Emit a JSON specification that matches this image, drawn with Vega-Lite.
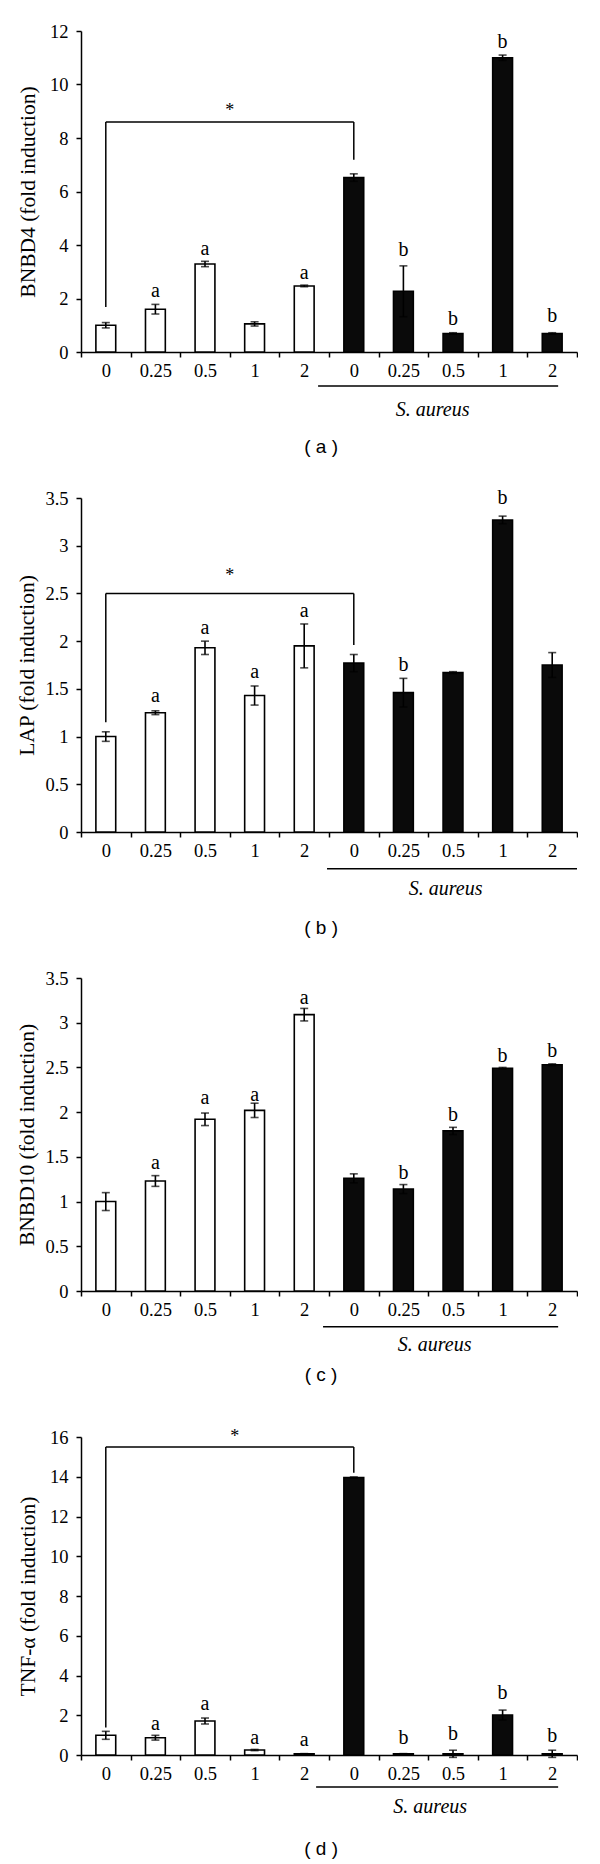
{
  "$schema": "https://vega.github.io/schema/vega-lite/v6.json",
  "padding": {"left": 16, "top": 22, "right": 0, "bottom": 0},
  "background": "white",
  "config": {
    "view": {"stroke": null},
    "axis": {
      "labelFont": "Liberation Serif", "labelFontSize": 18.5, "labelColor": "#000", "labelOverlap": false,
      "titleFont": "Liberation Serif", "titleFontSize": 21.5, "titleFontWeight": "normal", "titleColor": "#000",
      "domainColor": "#000", "domainWidth": 1.5, "tickColor": "#000", "tickWidth": 1.5, "tickSize": 5, "grid": false
    },
    "text": {"font": "Liberation Serif", "fontSize": 20, "color": "#000"}
  },
  "datasets": {
    "a_bars": [
      {"cat": "C|0", "grp": "ctrl", "v": 1.0, "e": 0.1, "let": "", "ly": 0},
      {"cat": "C|0.25", "grp": "ctrl", "v": 1.6, "e": 0.18, "let": "a", "ly": 2.29},
      {"cat": "C|0.5", "grp": "ctrl", "v": 3.29, "e": 0.1, "let": "a", "ly": 3.86},
      {"cat": "C|1", "grp": "ctrl", "v": 1.05, "e": 0.08, "let": "", "ly": 0},
      {"cat": "C|2", "grp": "ctrl", "v": 2.47, "e": 0.03, "let": "a", "ly": 2.94},
      {"cat": "S|0", "grp": "sa", "v": 6.52, "e": 0.14, "let": "", "ly": 0},
      {"cat": "S|0.25", "grp": "sa", "v": 2.27, "e": 0.95, "let": "b", "ly": 3.82},
      {"cat": "S|0.5", "grp": "sa", "v": 0.69, "e": 0.03, "let": "b", "ly": 1.22},
      {"cat": "S|1", "grp": "sa", "v": 11.0, "e": 0.1, "let": "b", "ly": 11.58},
      {"cat": "S|2", "grp": "sa", "v": 0.69, "e": 0.03, "let": "b", "ly": 1.34}
    ],
    "a_ann": [
      {"kind": "rule", "x": 0.5, "x2": 5.5, "y": 8.6, "y2": 8.6},
      {"kind": "rule", "x": 0.5, "x2": 0.5, "y": 1.68, "y2": 8.6},
      {"kind": "rule", "x": 5.5, "x2": 5.5, "y": 7.19, "y2": 8.6},
      {"kind": "line", "x": 4.78, "x2": 9.62, "y": -1.27, "y2": -1.27},
      {"kind": "star", "x": 3.0, "y": 9.0, "t": "*"},
      {"kind": "species", "x": 7.09, "y": -2.17, "t": "S. aureus"},
      {"kind": "panel", "x": 4.84, "y": -3.55, "t": "( a )"}
    ],
    "b_bars": [
      {"cat": "C|0", "grp": "ctrl", "v": 1.0, "e": 0.05, "let": "", "ly": 0},
      {"cat": "C|0.25", "grp": "ctrl", "v": 1.25, "e": 0.02, "let": "a", "ly": 1.43},
      {"cat": "C|0.5", "grp": "ctrl", "v": 1.93, "e": 0.07, "let": "a", "ly": 2.14},
      {"cat": "C|1", "grp": "ctrl", "v": 1.43, "e": 0.1, "let": "a", "ly": 1.68},
      {"cat": "C|2", "grp": "ctrl", "v": 1.95, "e": 0.23, "let": "a", "ly": 2.32},
      {"cat": "S|0", "grp": "sa", "v": 1.77, "e": 0.09, "let": "", "ly": 0},
      {"cat": "S|0.25", "grp": "sa", "v": 1.46, "e": 0.15, "let": "b", "ly": 1.755},
      {"cat": "S|0.5", "grp": "sa", "v": 1.67, "e": 0.01, "let": "", "ly": 0},
      {"cat": "S|1", "grp": "sa", "v": 3.27, "e": 0.04, "let": "b", "ly": 3.5},
      {"cat": "S|2", "grp": "sa", "v": 1.75, "e": 0.13, "let": "", "ly": 0}
    ],
    "b_ann": [
      {"kind": "rule", "x": 0.5, "x2": 5.5, "y": 2.5, "y2": 2.5},
      {"kind": "rule", "x": 0.5, "x2": 0.5, "y": 1.15, "y2": 2.5},
      {"kind": "rule", "x": 5.5, "x2": 5.5, "y": 1.96, "y2": 2.5},
      {"kind": "line", "x": 4.96, "x2": 10.0, "y": -0.385, "y2": -0.385},
      {"kind": "star", "x": 3.0, "y": 2.68, "t": "*"},
      {"kind": "species", "x": 7.35, "y": -0.594, "t": "S. aureus"},
      {"kind": "panel", "x": 4.84, "y": -1.01, "t": "( b )"}
    ],
    "c_bars": [
      {"cat": "C|0", "grp": "ctrl", "v": 1.0, "e": 0.1, "let": "", "ly": 0},
      {"cat": "C|0.25", "grp": "ctrl", "v": 1.23, "e": 0.06, "let": "a", "ly": 1.43},
      {"cat": "C|0.5", "grp": "ctrl", "v": 1.92, "e": 0.07, "let": "a", "ly": 2.16},
      {"cat": "C|1", "grp": "ctrl", "v": 2.02, "e": 0.08, "let": "a", "ly": 2.19},
      {"cat": "C|2", "grp": "ctrl", "v": 3.09, "e": 0.07, "let": "a", "ly": 3.28},
      {"cat": "S|0", "grp": "sa", "v": 1.26, "e": 0.05, "let": "", "ly": 0},
      {"cat": "S|0.25", "grp": "sa", "v": 1.14, "e": 0.05, "let": "b", "ly": 1.32},
      {"cat": "S|0.5", "grp": "sa", "v": 1.79, "e": 0.04, "let": "b", "ly": 1.97},
      {"cat": "S|1", "grp": "sa", "v": 2.49, "e": 0.01, "let": "b", "ly": 2.63},
      {"cat": "S|2", "grp": "sa", "v": 2.53, "e": 0.01, "let": "b", "ly": 2.68}
    ],
    "c_ann": [
      {"kind": "line", "x": 4.88, "x2": 9.62, "y": -0.40, "y2": -0.40},
      {"kind": "species", "x": 7.13, "y": -0.60, "t": "S. aureus"},
      {"kind": "panel", "x": 4.84, "y": -0.94, "t": "( c )"}
    ],
    "d_bars": [
      {"cat": "C|0", "grp": "ctrl", "v": 0.99, "e": 0.2, "let": "", "ly": 0},
      {"cat": "C|0.25", "grp": "ctrl", "v": 0.87, "e": 0.12, "let": "a", "ly": 1.54},
      {"cat": "C|0.5", "grp": "ctrl", "v": 1.71, "e": 0.15, "let": "a", "ly": 2.55},
      {"cat": "C|1", "grp": "ctrl", "v": 0.25, "e": 0.03, "let": "a", "ly": 0.87},
      {"cat": "C|2", "grp": "ctrl", "v": 0.06, "e": 0.01, "let": "a", "ly": 0.75},
      {"cat": "S|0", "grp": "sa", "v": 13.96, "e": 0.03, "let": "", "ly": 0},
      {"cat": "S|0.25", "grp": "sa", "v": 0.06, "e": 0.01, "let": "b", "ly": 0.87},
      {"cat": "S|0.5", "grp": "sa", "v": 0.06, "e": 0.18, "let": "b", "ly": 1.04},
      {"cat": "S|1", "grp": "sa", "v": 2.01, "e": 0.25, "let": "b", "ly": 3.14},
      {"cat": "S|2", "grp": "sa", "v": 0.06, "e": 0.18, "let": "b", "ly": 0.96}
    ],
    "d_ann": [
      {"kind": "rule", "x": 0.5, "x2": 5.5, "y": 15.5, "y2": 15.5},
      {"kind": "rule", "x": 0.5, "x2": 0.5, "y": 1.38, "y2": 15.5},
      {"kind": "rule", "x": 5.5, "x2": 5.5, "y": 14.2, "y2": 15.5},
      {"kind": "line", "x": 4.74, "x2": 9.62, "y": -1.61, "y2": -1.61},
      {"kind": "star", "x": 3.1, "y": 16.0, "t": "*"},
      {"kind": "species", "x": 7.04, "y": -2.62, "t": "S. aureus"},
      {"kind": "panel", "x": 4.84, "y": -4.73, "t": "( d )"}
    ]
  },
  "vconcat": [
    {
      "width": 496, "height": 321,
      "resolve": {"scale": {"x": "independent"}},
      "layer": [
        {
          "data": {"name": "a_bars"},
          "encoding": {
            "x": {"field": "cat", "type": "nominal", "sort": null, "title": null,
                  "scale": {"paddingInner": 0, "paddingOuter": 0},
                  "axis": {"tickBand": "extent", "labelExpr": "split(datum.label, '|')[1]", "labelAngle": 0, "labelPadding": 4, "labelOverlap": false}}
          },
          "layer": [
            {
              "mark": {"type": "bar", "width": {"band": 0.4}, "stroke": "#000", "strokeWidth": 1.6},
              "encoding": {
                "y": {"field": "v", "type": "quantitative", "scale": {"domain": [0, 12], "nice": false}, "title": "BNBD4 (fold induction)",
                      "axis": {"values": [0, 2, 4, 6, 8, 10, 12], "tickCount": 20, "format": "~g", "labelOverlap": false, "labelPadding": 8, "titlePadding": 10}},
                "fill": {"field": "grp", "type": "nominal", "scale": {"domain": ["ctrl", "sa"], "range": ["#ffffff", "#0a0a0a"]}, "legend": null}
              }
            },
            {
              "mark": {"type": "errorbar", "color": "#000", "thickness": 1.6, "ticks": {"size": 8, "thickness": 1.6, "color": "#000"}},
              "encoding": {
                "y": {"field": "v", "type": "quantitative", "title": "BNBD4 (fold induction)"},
                "yError": {"field": "e"}
              }
            },
            {
              "mark": {"type": "text", "baseline": "middle"},
              "encoding": {
                "y": {"field": "ly", "type": "quantitative", "title": "BNBD4 (fold induction)"},
                "text": {"field": "let"}
              }
            }
          ]
        },
        {
          "data": {"name": "a_ann"},
          "layer": [
            {
              "transform": [{"filter": "datum.kind === 'rule' || datum.kind === 'line'"}],
              "mark": {"type": "rule", "color": "#000", "strokeWidth": 1.5},
              "encoding": {
                "x": {"field": "x", "type": "quantitative", "scale": {"domain": [0, 10], "nice": false, "zero": false}, "axis": null},
                "x2": {"field": "x2"},
                "y": {"field": "y", "type": "quantitative", "title": "BNBD4 (fold induction)"},
                "y2": {"field": "y2"}
              }
            },
            {
              "transform": [{"filter": "datum.kind === 'star'"}],
              "mark": {"type": "text", "baseline": "middle", "fontSize": 18},
              "encoding": {"x": {"field": "x", "type": "quantitative", "axis": null}, "y": {"field": "y", "type": "quantitative", "title": "BNBD4 (fold induction)"}, "text": {"field": "t"}}
            },
            {
              "transform": [{"filter": "datum.kind === 'species'"}],
              "mark": {"type": "text", "baseline": "middle", "fontSize": 20, "fontStyle": "italic"},
              "encoding": {"x": {"field": "x", "type": "quantitative", "axis": null}, "y": {"field": "y", "type": "quantitative", "title": "BNBD4 (fold induction)"}, "text": {"field": "t"}}
            },
            {
              "transform": [{"filter": "datum.kind === 'panel'"}],
              "mark": {"type": "text", "baseline": "middle", "fontSize": 19, "font": "Liberation Sans"},
              "encoding": {"x": {"field": "x", "type": "quantitative", "axis": null}, "y": {"field": "y", "type": "quantitative", "title": "BNBD4 (fold induction)"}, "text": {"field": "t"}}
            }
          ]
        }
      ]
    },
    {
      "width": 496, "height": 334,
      "resolve": {"scale": {"x": "independent"}},
      "layer": [
        {
          "data": {"name": "b_bars"},
          "encoding": {
            "x": {"field": "cat", "type": "nominal", "sort": null, "title": null,
                  "scale": {"paddingInner": 0, "paddingOuter": 0},
                  "axis": {"tickBand": "extent", "labelExpr": "split(datum.label, '|')[1]", "labelAngle": 0, "labelPadding": 4, "labelOverlap": false}}
          },
          "layer": [
            {
              "mark": {"type": "bar", "width": {"band": 0.4}, "stroke": "#000", "strokeWidth": 1.6},
              "encoding": {
                "y": {"field": "v", "type": "quantitative", "scale": {"domain": [0, 3.5], "nice": false}, "title": "LAP (fold induction)",
                      "axis": {"values": [0, 0.5, 1, 1.5, 2, 2.5, 3, 3.5], "tickCount": 20, "format": "~g", "labelOverlap": false, "labelPadding": 8, "titlePadding": 6}},
                "fill": {"field": "grp", "type": "nominal", "scale": {"domain": ["ctrl", "sa"], "range": ["#ffffff", "#0a0a0a"]}, "legend": null}
              }
            },
            {
              "mark": {"type": "errorbar", "color": "#000", "thickness": 1.6, "ticks": {"size": 8, "thickness": 1.6, "color": "#000"}},
              "encoding": {
                "y": {"field": "v", "type": "quantitative", "title": "LAP (fold induction)"},
                "yError": {"field": "e"}
              }
            },
            {
              "mark": {"type": "text", "baseline": "middle"},
              "encoding": {
                "y": {"field": "ly", "type": "quantitative", "title": "LAP (fold induction)"},
                "text": {"field": "let"}
              }
            }
          ]
        },
        {
          "data": {"name": "b_ann"},
          "layer": [
            {
              "transform": [{"filter": "datum.kind === 'rule' || datum.kind === 'line'"}],
              "mark": {"type": "rule", "color": "#000", "strokeWidth": 1.5},
              "encoding": {
                "x": {"field": "x", "type": "quantitative", "scale": {"domain": [0, 10], "nice": false, "zero": false}, "axis": null},
                "x2": {"field": "x2"},
                "y": {"field": "y", "type": "quantitative", "title": "LAP (fold induction)"},
                "y2": {"field": "y2"}
              }
            },
            {
              "transform": [{"filter": "datum.kind === 'star'"}],
              "mark": {"type": "text", "baseline": "middle", "fontSize": 18},
              "encoding": {"x": {"field": "x", "type": "quantitative", "axis": null}, "y": {"field": "y", "type": "quantitative", "title": "LAP (fold induction)"}, "text": {"field": "t"}}
            },
            {
              "transform": [{"filter": "datum.kind === 'species'"}],
              "mark": {"type": "text", "baseline": "middle", "fontSize": 20, "fontStyle": "italic"},
              "encoding": {"x": {"field": "x", "type": "quantitative", "axis": null}, "y": {"field": "y", "type": "quantitative", "title": "LAP (fold induction)"}, "text": {"field": "t"}}
            },
            {
              "transform": [{"filter": "datum.kind === 'panel'"}],
              "mark": {"type": "text", "baseline": "middle", "fontSize": 19, "font": "Liberation Sans"},
              "encoding": {"x": {"field": "x", "type": "quantitative", "axis": null}, "y": {"field": "y", "type": "quantitative", "title": "LAP (fold induction)"}, "text": {"field": "t"}}
            }
          ]
        }
      ]
    },
    {
      "width": 496, "height": 313,
      "resolve": {"scale": {"x": "independent"}},
      "layer": [
        {
          "data": {"name": "c_bars"},
          "encoding": {
            "x": {"field": "cat", "type": "nominal", "sort": null, "title": null,
                  "scale": {"paddingInner": 0, "paddingOuter": 0},
                  "axis": {"tickBand": "extent", "labelExpr": "split(datum.label, '|')[1]", "labelAngle": 0, "labelPadding": 4, "labelOverlap": false}}
          },
          "layer": [
            {
              "mark": {"type": "bar", "width": {"band": 0.4}, "stroke": "#000", "strokeWidth": 1.6},
              "encoding": {
                "y": {"field": "v", "type": "quantitative", "scale": {"domain": [0, 3.5], "nice": false}, "title": "BNBD10 (fold induction)",
                      "axis": {"values": [0, 0.5, 1, 1.5, 2, 2.5, 3, 3.5], "tickCount": 20, "format": "~g", "labelOverlap": false, "labelPadding": 8, "titlePadding": 6}},
                "fill": {"field": "grp", "type": "nominal", "scale": {"domain": ["ctrl", "sa"], "range": ["#ffffff", "#0a0a0a"]}, "legend": null}
              }
            },
            {
              "mark": {"type": "errorbar", "color": "#000", "thickness": 1.6, "ticks": {"size": 8, "thickness": 1.6, "color": "#000"}},
              "encoding": {
                "y": {"field": "v", "type": "quantitative", "title": "BNBD10 (fold induction)"},
                "yError": {"field": "e"}
              }
            },
            {
              "mark": {"type": "text", "baseline": "middle"},
              "encoding": {
                "y": {"field": "ly", "type": "quantitative", "title": "BNBD10 (fold induction)"},
                "text": {"field": "let"}
              }
            }
          ]
        },
        {
          "data": {"name": "c_ann"},
          "layer": [
            {
              "transform": [{"filter": "datum.kind === 'rule' || datum.kind === 'line'"}],
              "mark": {"type": "rule", "color": "#000", "strokeWidth": 1.5},
              "encoding": {
                "x": {"field": "x", "type": "quantitative", "scale": {"domain": [0, 10], "nice": false, "zero": false}, "axis": null},
                "x2": {"field": "x2"},
                "y": {"field": "y", "type": "quantitative", "title": "BNBD10 (fold induction)"},
                "y2": {"field": "y2"}
              }
            },
            {
              "transform": [{"filter": "datum.kind === 'species'"}],
              "mark": {"type": "text", "baseline": "middle", "fontSize": 20, "fontStyle": "italic"},
              "encoding": {"x": {"field": "x", "type": "quantitative", "axis": null}, "y": {"field": "y", "type": "quantitative", "title": "BNBD10 (fold induction)"}, "text": {"field": "t"}}
            },
            {
              "transform": [{"filter": "datum.kind === 'panel'"}],
              "mark": {"type": "text", "baseline": "middle", "fontSize": 19, "font": "Liberation Sans"},
              "encoding": {"x": {"field": "x", "type": "quantitative", "axis": null}, "y": {"field": "y", "type": "quantitative", "title": "BNBD10 (fold induction)"}, "text": {"field": "t"}}
            }
          ]
        }
      ]
    },
    {
      "width": 496, "height": 318,
      "resolve": {"scale": {"x": "independent"}},
      "layer": [
        {
          "data": {"name": "d_bars"},
          "encoding": {
            "x": {"field": "cat", "type": "nominal", "sort": null, "title": null,
                  "scale": {"paddingInner": 0, "paddingOuter": 0},
                  "axis": {"tickBand": "extent", "labelExpr": "split(datum.label, '|')[1]", "labelAngle": 0, "labelPadding": 4, "labelOverlap": false}}
          },
          "layer": [
            {
              "mark": {"type": "bar", "width": {"band": 0.4}, "stroke": "#000", "strokeWidth": 1.6},
              "encoding": {
                "y": {"field": "v", "type": "quantitative", "scale": {"domain": [0, 16], "nice": false}, "title": "TNF-α (fold induction)",
                      "axis": {"values": [0, 2, 4, 6, 8, 10, 12, 14, 16], "tickCount": 20, "format": "~g", "labelOverlap": false, "labelPadding": 8, "titlePadding": 10}},
                "fill": {"field": "grp", "type": "nominal", "scale": {"domain": ["ctrl", "sa"], "range": ["#ffffff", "#0a0a0a"]}, "legend": null}
              }
            },
            {
              "mark": {"type": "errorbar", "color": "#000", "thickness": 1.6, "ticks": {"size": 8, "thickness": 1.6, "color": "#000"}},
              "encoding": {
                "y": {"field": "v", "type": "quantitative", "title": "TNF-α (fold induction)"},
                "yError": {"field": "e"}
              }
            },
            {
              "mark": {"type": "text", "baseline": "middle"},
              "encoding": {
                "y": {"field": "ly", "type": "quantitative", "title": "TNF-α (fold induction)"},
                "text": {"field": "let"}
              }
            }
          ]
        },
        {
          "data": {"name": "d_ann"},
          "layer": [
            {
              "transform": [{"filter": "datum.kind === 'rule' || datum.kind === 'line'"}],
              "mark": {"type": "rule", "color": "#000", "strokeWidth": 1.5},
              "encoding": {
                "x": {"field": "x", "type": "quantitative", "scale": {"domain": [0, 10], "nice": false, "zero": false}, "axis": null},
                "x2": {"field": "x2"},
                "y": {"field": "y", "type": "quantitative", "title": "TNF-α (fold induction)"},
                "y2": {"field": "y2"}
              }
            },
            {
              "transform": [{"filter": "datum.kind === 'star'"}],
              "mark": {"type": "text", "baseline": "middle", "fontSize": 18},
              "encoding": {"x": {"field": "x", "type": "quantitative", "axis": null}, "y": {"field": "y", "type": "quantitative", "title": "TNF-α (fold induction)"}, "text": {"field": "t"}}
            },
            {
              "transform": [{"filter": "datum.kind === 'species'"}],
              "mark": {"type": "text", "baseline": "middle", "fontSize": 20, "fontStyle": "italic"},
              "encoding": {"x": {"field": "x", "type": "quantitative", "axis": null}, "y": {"field": "y", "type": "quantitative", "title": "TNF-α (fold induction)"}, "text": {"field": "t"}}
            },
            {
              "transform": [{"filter": "datum.kind === 'panel'"}],
              "mark": {"type": "text", "baseline": "middle", "fontSize": 19, "font": "Liberation Sans"},
              "encoding": {"x": {"field": "x", "type": "quantitative", "axis": null}, "y": {"field": "y", "type": "quantitative", "title": "TNF-α (fold induction)"}, "text": {"field": "t"}}
            }
          ]
        }
      ]
    }
  ],
  "bounds": "flush",
  "spacing": 146
}
